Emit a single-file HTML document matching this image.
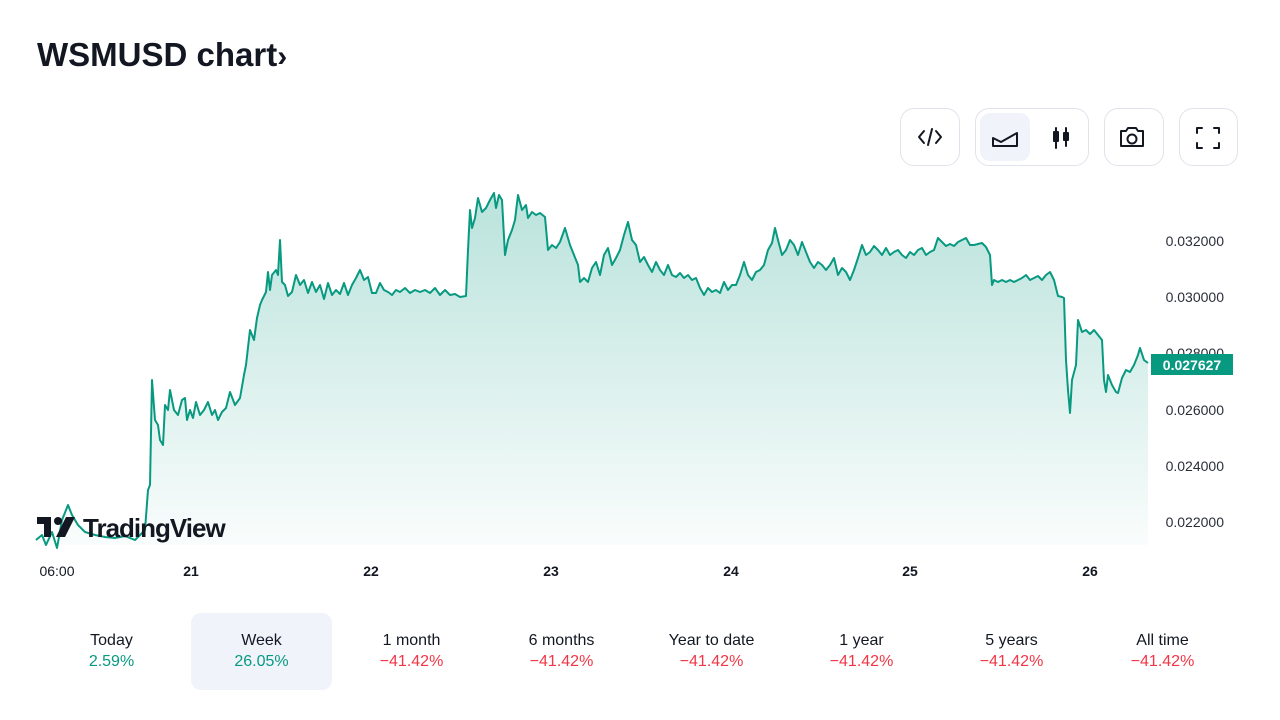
<!DOCTYPE html>
<html><head><meta charset="utf-8"><style>
body{margin:0;width:1280px;height:720px;background:#fff;font-family:"Liberation Sans",sans-serif;color:#131722;position:relative;overflow:hidden}
.t{position:absolute;left:37px;top:36px;font-size:33px;font-weight:bold;letter-spacing:0px}
.btn{position:absolute;top:108px;height:58px;border:1px solid #e0e3eb;border-radius:14px;box-sizing:border-box}
.per{position:absolute;top:613px;width:141px;height:77px;text-align:center;font-size:16px;border-radius:10px}
.per div{margin-top:19px}
.per .v{margin-top:3px;font-size:16px}
.g{color:#089981}.r{color:#f23645}
</style></head><body>
<div class="t">WSMUSD chart<span style="font-size:30px">&#x203A;</span></div>
<div class="btn" style="left:900px;width:60px"></div>
<div class="btn" style="left:975px;width:114px"><div style="position:absolute;left:4px;top:4px;width:50px;height:48px;background:#f0f3fa;border-radius:10px"></div></div>
<div class="btn" style="left:1104px;width:60px"></div>
<div class="btn" style="left:1179px;width:59px"></div>
<svg width="1280" height="720" style="position:absolute;left:0;top:0">
<defs><linearGradient id="gr" x1="0" y1="0" x2="0" y2="1"><stop offset="0" stop-color="#089981" stop-opacity="0.28"/><stop offset="1" stop-color="#089981" stop-opacity="0.02"/></linearGradient></defs>
<g fill="none" stroke="#131722" stroke-width="2" stroke-linecap="round" stroke-linejoin="round">
<path d="M924 131l-5 6 5 6M936 131l5 6-5 6M932 129l-4 16"/>
<path d="M993 146v-8l8 4 16-9v13z"/>
<path d="M1056 128v20M1054 132h4v9h-4zM1066 128v18M1064 133h4v7h-4z"/>
<path d="M1121 131h5l2-3h8l2 3h5v15h-22z"/><circle cx="1132" cy="139" r="4.5"/>
<path d="M1197 133v-5h5M1214 128h5v5M1219 143v5h-5M1202 148h-5v-5"/>
</g>
<path id="ln" fill="url(#gr)" stroke="none" d=""/>
<polyline id="pl" fill="none" stroke="#089981" stroke-width="2" stroke-linejoin="round" points="36,540 42,535 46,545 52,532 57,548 62,520 68,505 72,515 78,525 85,532 95,535 105,537 115,538 125,536 135,540 145,530 148,490 150,485 152,380 155,420 158,425 160,440 163,445 165,405 168,410 170,390 174,410 178,415 182,400 185,398 187,420 190,410 193,418 196,402 200,415 204,410 208,402 212,415 215,410 218,420 222,412 226,408 230,392 235,405 240,398 244,375 246,365 250,330 254,340 257,318 260,305 262,300 266,292 268,272 270,290 272,275 276,270 278,275 280,240 282,282 285,285 288,296 292,292 296,275 300,285 304,280 308,293 312,282 316,292 320,285 324,299 328,283 332,295 336,290 340,294 344,283 348,295 352,285 356,278 360,270 364,280 368,277 372,293 376,293 380,283 384,290 388,292 392,295 396,290 400,292 405,288 410,293 415,290 420,292 425,290 430,293 435,288 440,295 445,290 450,295 455,294 460,297 466,296 468,250 470,210 472,228 475,218 478,198 482,212 486,208 490,200 494,193 496,208 499,195 502,200 505,255 508,240 512,230 515,220 518,195 522,210 526,205 528,218 532,212 536,215 540,213 545,217 548,250 552,245 556,248 560,242 565,228 570,245 574,255 578,265 580,282 584,278 588,282 592,268 596,262 600,275 604,255 608,248 612,265 616,258 620,250 624,235 628,222 632,240 636,245 640,262 644,257 648,265 652,272 656,262 660,270 664,275 668,265 672,275 676,277 680,273 684,278 688,275 692,280 696,278 700,288 704,295 708,288 712,292 716,290 720,293 724,282 728,290 732,285 736,285 740,275 744,262 748,275 752,280 756,272 760,270 764,265 768,250 772,243 775,228 778,240 782,255 786,250 790,240 794,245 798,255 802,242 806,252 810,262 814,268 818,262 822,265 826,270 830,265 834,258 838,275 842,268 846,272 850,280 854,270 858,258 862,245 866,255 870,252 874,246 878,250 882,255 886,248 890,255 894,252 898,250 902,255 906,258 910,252 914,255 918,250 922,248 926,255 930,252 934,250 938,238 942,242 946,246 950,244 954,246 958,242 962,240 966,238 970,245 974,245 978,244 982,243 986,247 990,255 992,285 994,280 998,282 1002,280 1006,282 1010,280 1014,282 1018,280 1022,278 1026,275 1030,280 1034,278 1038,276 1042,280 1046,275 1050,272 1054,280 1058,296 1062,297 1064,298 1066,360 1068,390 1070,413 1072,380 1076,365 1078,320 1082,332 1086,330 1090,334 1094,330 1098,335 1102,340 1104,380 1106,392 1108,375 1112,385 1116,392 1118,393 1122,378 1126,370 1130,372 1134,365 1138,355 1140,348 1144,360 1148,363"/>
<g font-size="14" fill="#2a2e39" text-anchor="end">
<text x="1224" y="246">0.032000</text><text x="1224" y="302">0.030000</text><text x="1224" y="358">0.028000</text><text x="1224" y="415">0.026000</text><text x="1224" y="471">0.024000</text><text x="1224" y="527">0.022000</text>
</g>
<rect x="1151" y="354" width="82" height="21" fill="#089981"/>
<text x="1192" y="370" font-size="14" font-weight="bold" fill="#fff" text-anchor="middle">0.027627</text>
<g font-size="14" fill="#131722" text-anchor="middle">
<text x="57" y="576">06:00</text><text x="191" y="576" font-weight="bold">21</text><text x="371" y="576" font-weight="bold">22</text><text x="551" y="576" font-weight="bold">23</text><text x="731" y="576" font-weight="bold">24</text><text x="910" y="576" font-weight="bold">25</text><text x="1090" y="576" font-weight="bold">26</text>
</g>
<g fill="#131722"><rect x="37" y="517" width="14" height="7"/><rect x="44" y="517" width="7" height="20"/><circle cx="58" cy="521" r="4"/><path d="M66 517h9l-10 20h-9z"/></g>
<text x="83" y="537" font-size="26" font-weight="bold" fill="#131722" letter-spacing="-1">TradingView</text>
</svg>
<script>
var p=document.getElementById('pl').getAttribute('points').trim().split(' ');
document.getElementById('ln').setAttribute('d','M'+p.join(' L')+' L1148,545 L36,545 Z');
</script>
<div class="per" style="left:41px"><div>Today</div><div class="v g">2.59%</div></div>
<div class="per" style="left:191px;background:#f0f3fa"><div>Week</div><div class="v g">26.05%</div></div>
<div class="per" style="left:341px"><div>1 month</div><div class="v r">−41.42%</div></div>
<div class="per" style="left:491px"><div>6 months</div><div class="v r">−41.42%</div></div>
<div class="per" style="left:641px"><div>Year to date</div><div class="v r">−41.42%</div></div>
<div class="per" style="left:791px"><div>1 year</div><div class="v r">−41.42%</div></div>
<div class="per" style="left:941px"><div>5 years</div><div class="v r">−41.42%</div></div>
<div class="per" style="left:1092px"><div>All time</div><div class="v r">−41.42%</div></div>
</body></html>
